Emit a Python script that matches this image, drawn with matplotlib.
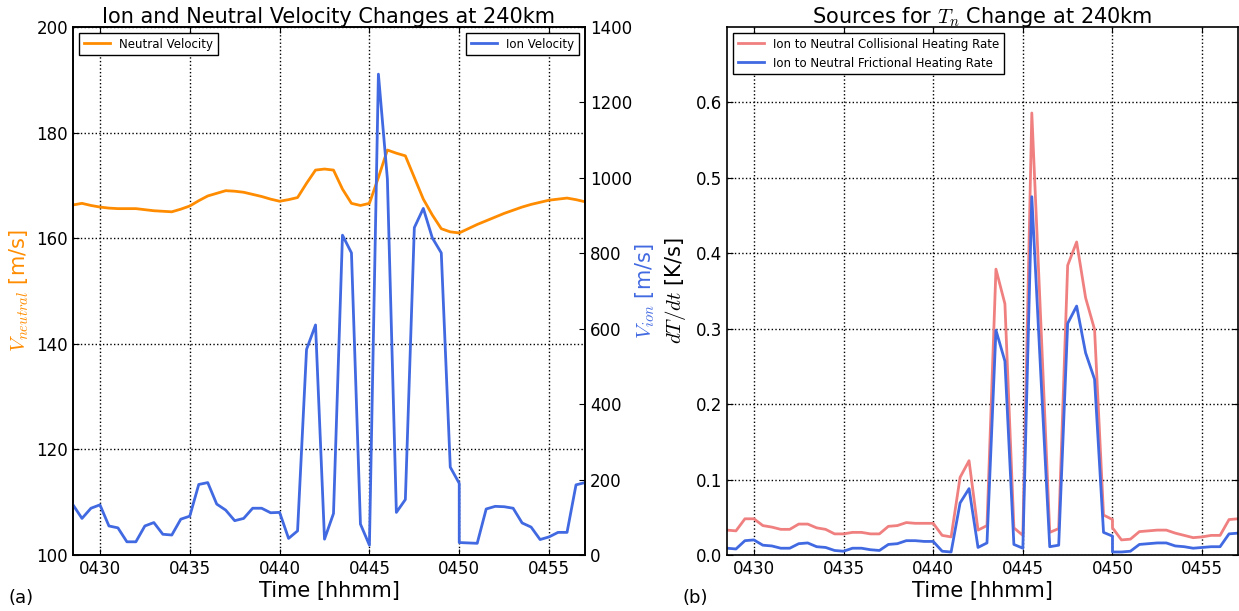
import matplotlib
matplotlib.use('Agg')
import matplotlib.pyplot as plt

plt.rcParams['font.family'] = ['DejaVu Sans']
plt.rcParams['mathtext.fontset'] = 'cm'
plt.rcParams['xtick.direction'] = 'in'
plt.rcParams['ytick.direction'] = 'in'

# time in minutes after 04:00, sampled every 30 s (two samples at 04:50)
minutes = [28.5, 29, 29.5, 30, 30.5, 31, 31.5, 32, 32.5, 33, 33.5, 34, 34.5, 35,
           35.5, 36, 36.5, 37, 37.5, 38, 38.5, 39, 39.5, 40, 40.5, 41, 41.5, 42,
           42.5, 43, 43.5, 44, 44.5, 45, 45.5, 46, 46.5, 47, 47.5, 48, 48.5, 49,
           49.5, 50, 50, 50.5, 51, 51.5, 52, 52.5, 53, 53.5, 54, 54.5, 55, 55.5,
           56, 56.5, 57]

neutral_vel = [166.3, 166.6, 166.2, 165.9, 165.7, 165.6, 165.6, 165.6, 165.4, 165.2,
               165.1, 165.0, 165.5, 166.1, 167.1, 168.0, 168.5, 169.0, 168.9, 168.7,
               168.3, 167.9, 167.4, 167.0, 167.3, 167.7, 170.4, 172.9, 173.1, 172.9,
               169.3, 166.6, 166.2, 166.6, 171.5, 176.7, 176.1, 175.6, 171.5, 167.4,
               164.4, 161.8, 161.2, 161.0, 161.0, 161.8, 162.6, 163.3, 164.0, 164.7,
               165.3, 165.9, 166.4, 166.8, 167.2, 167.4, 167.6, 167.3, 166.9]

ion_vel = [133, 97, 124, 133, 77, 72, 35, 35, 77, 86, 55, 53, 95, 103, 187, 192, 135,
           119, 91, 97, 124, 124, 112, 113, 44, 64, 545, 610, 42, 110, 848, 801, 82,
           26, 1275, 997, 113, 147, 868, 919, 841, 801, 233, 190, 33, 32, 31, 122,
           129, 128, 124, 85, 74, 41, 48, 60, 60, 186, 192]

collisional = [0.033, 0.032, 0.048, 0.048, 0.039, 0.037, 0.034, 0.034, 0.041, 0.041,
               0.036, 0.034, 0.028, 0.028, 0.030, 0.030, 0.028, 0.028, 0.038, 0.039,
               0.043, 0.042, 0.042, 0.042, 0.026, 0.024, 0.103, 0.125, 0.033, 0.039,
               0.379, 0.333, 0.036, 0.026, 0.586, 0.31, 0.030, 0.035, 0.384, 0.415,
               0.341, 0.299, 0.053, 0.047, 0.036, 0.020, 0.021, 0.031, 0.032, 0.033,
               0.033, 0.029, 0.026, 0.023, 0.024, 0.026, 0.026, 0.047, 0.048]

frictional = [0.009, 0.008, 0.019, 0.020, 0.013, 0.012, 0.009, 0.009, 0.015, 0.016,
              0.011, 0.010, 0.006, 0.005, 0.009, 0.009, 0.007, 0.006, 0.014, 0.015,
              0.019, 0.019, 0.018, 0.018, 0.005, 0.004, 0.069, 0.088, 0.010, 0.016,
              0.298, 0.257, 0.014, 0.009, 0.475, 0.24, 0.011, 0.013, 0.307, 0.330,
              0.268, 0.233, 0.030, 0.025, 0.004, 0.004, 0.005, 0.014, 0.015, 0.016,
              0.016, 0.012, 0.011, 0.009, 0.010, 0.011, 0.011, 0.028, 0.029]

tick_minutes = [30, 35, 40, 45, 50, 55]
tick_labels = ['0430', '0435', '0440', '0445', '0450', '0455']

ORANGE = '#ff8c00'
BLUE = '#4169e1'
RED = '#f08080'

fig = plt.figure(figsize=(12.39, 6.11), dpi=100)
W, H = 1239.0, 611.0

# ---- panel (a)
ax1 = fig.add_axes([73 / W, 56 / H, 512 / W, 528 / H])
ax1.plot(minutes, neutral_vel, color=ORANGE, lw=2, label='Neutral Velocity')
ax1.set_ylim(100, 200)
ax1.set_yticks([100, 120, 140, 160, 180, 200])
ax1.set_xlim(28.5, 57)
ax1.set_xticks(tick_minutes)
ax1.set_xticklabels(tick_labels)
ax1.tick_params(labelsize=12, top=True, length=4)
ax1.grid(True, color='k', linestyle=':', linewidth=1)
ax1.set_xlabel('Time [hhmm]', fontsize=15, labelpad=2)
ax1.set_ylabel(r'$V_{neutral}$ [m/s]', fontsize=15, color=ORANGE)
ax1.yaxis.set_label_coords(-0.082, 0.5)
ax1.set_title('Ion and Neutral Velocity Changes at 240km', fontsize=15, pad=3)
leg1 = ax1.legend(loc='upper left', fontsize=8.5, fancybox=False, framealpha=1,
                  handlelength=2.2)
leg1.get_frame().set_edgecolor('k')

ax2 = ax1.twinx()
ax2.plot(minutes, ion_vel, color=BLUE, lw=2, label='Ion Velocity')
ax2.set_ylim(0, 1400)
ax2.set_yticks(range(0, 1401, 200))
ax2.tick_params(labelsize=12, length=4)
ax2.set_ylabel(r'$V_{ion}$ [m/s]', fontsize=15, color=BLUE)
ax2.yaxis.set_label_coords(1.094, 0.5)
leg2 = ax2.legend(loc='upper right', fontsize=8.5, fancybox=False, framealpha=1,
                  handlelength=2.2)
leg2.get_frame().set_edgecolor('k')
for ax in (ax1, ax2):
    for s in ax.spines.values():
        s.set_linewidth(1.2)

fig.text(8 / W, 1 - 598 / H, '(a)', fontsize=13, va='center')

# ---- panel (b)
ax3 = fig.add_axes([727 / W, 56 / H, 511 / W, 528 / H])
ax3.plot(minutes, collisional, color=RED, lw=2,
         label='Ion to Neutral Collisional Heating Rate')
ax3.plot(minutes, frictional, color=BLUE, lw=2,
         label='Ion to Neutral Frictional Heating Rate')
ax3.set_ylim(0, 0.7)
ax3.set_yticks([0.0, 0.1, 0.2, 0.3, 0.4, 0.5, 0.6])
ax3.set_xlim(28.5, 57)
ax3.set_xticks(tick_minutes)
ax3.set_xticklabels(tick_labels)
ax3.tick_params(labelsize=12, top=True, right=True, length=4)
ax3.grid(True, color='k', linestyle=':', linewidth=1)
ax3.set_xlabel('Time [hhmm]', fontsize=15, labelpad=2)
ax3.set_ylabel(r'$dT/dt$ [K/s]', fontsize=15)
ax3.yaxis.set_label_coords(-0.076, 0.5)
ax3.set_title(r'Sources for $T_n$ Change at 240km', fontsize=15, pad=3)
leg3 = ax3.legend(loc='upper left', fontsize=8.5, fancybox=False, framealpha=1,
                  handlelength=2.2)
leg3.get_frame().set_edgecolor('k')
for s in ax3.spines.values():
    s.set_linewidth(1.2)

fig.text(683 / W, 1 - 598 / H, '(b)', fontsize=13, va='center')

fig.savefig('out.png', dpi=100)
